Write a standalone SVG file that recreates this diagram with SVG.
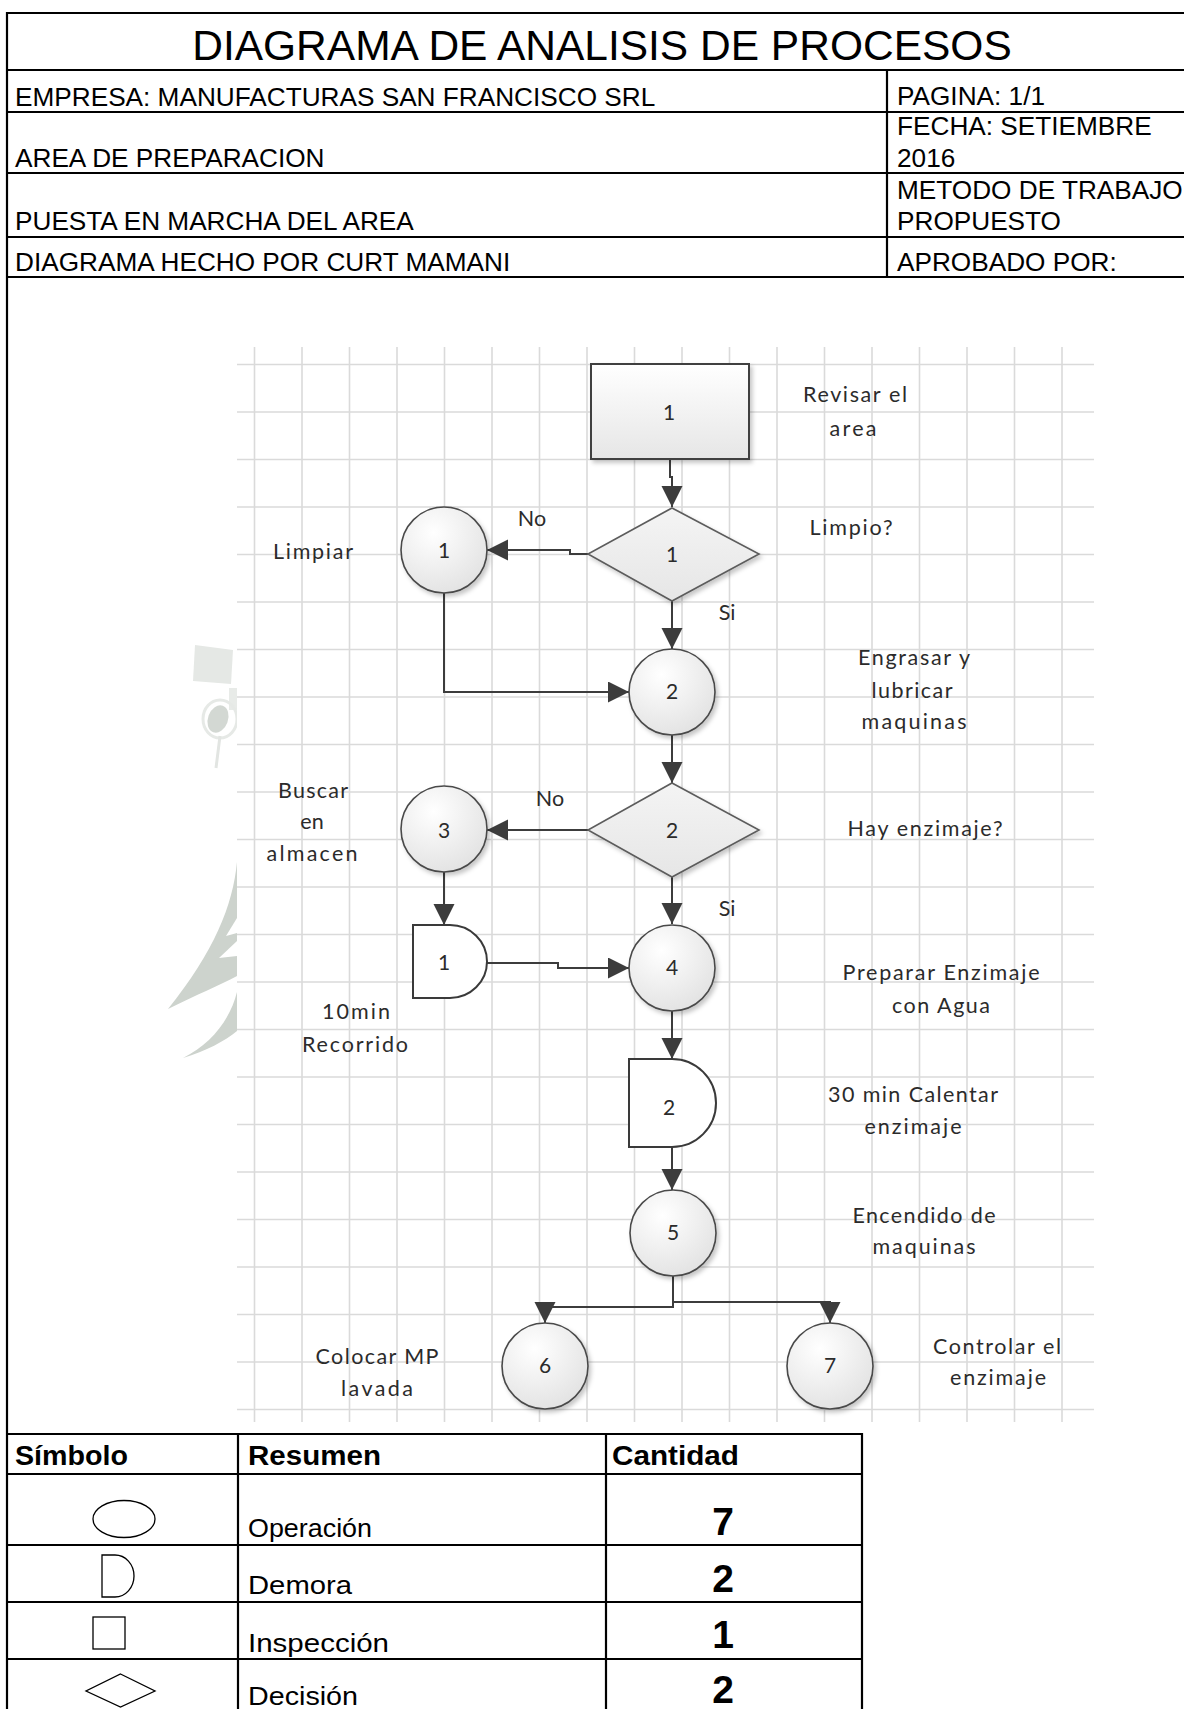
<svg xmlns="http://www.w3.org/2000/svg" width="1184" height="1709" viewBox="0 0 1184 1709">
  <style>
    .frame { stroke: #000; stroke-width: 2.2; fill: none; }
    .hdr { font-family: "Liberation Sans", Arial, sans-serif; font-size: 26.2px; fill: #000; }
    .title { font-family: "Liberation Sans", Arial, sans-serif; font-size: 42.5px; fill: #000; }
    .th { font-family: "Liberation Sans", Arial, sans-serif; font-size: 27px; font-weight: bold; fill: #000; }
    .td { font-family: "Liberation Sans", Arial, sans-serif; font-size: 25.5px; fill: #000; }
    .num { font-family: "Liberation Sans", Arial, sans-serif; font-size: 39px; font-weight: bold; fill: #000; text-anchor: middle; }
    .sym { stroke: #000; stroke-width: 1.3; fill: #fff; }
    .grid line { stroke: #dadada; stroke-width: 1.6; }
    .lbl { font-family: Lato, "Open Sans", sans-serif; font-size: 21.5px; fill: #2b2b2b; text-anchor: middle; }
    .nid { font-family: Lato, "Open Sans", sans-serif; font-size: 21px; fill: #2b2b2b; text-anchor: middle; }
    .op { fill: url(#opFill); stroke: #4a4a4a; stroke-width: 1.6; filter: url(#shadow); }
    .dec { fill: url(#decFill); stroke: #5c5c5c; stroke-width: 1.6; filter: url(#shadow); }
    .insp { fill: url(#inspFill); stroke: #404040; stroke-width: 2; filter: url(#shadow); }
    .delay { fill: #fff; stroke: #3a3a3a; stroke-width: 2; }
    .conn path { fill: none; stroke: #3c3c3c; stroke-width: 2; marker-end: url(#arrow); }
    .wm { fill: #cdd3cd; }
  </style>
  <defs>
    <radialGradient id="opFill" cx="0.38" cy="0.3" r="0.8">
      <stop offset="0" stop-color="#ffffff"/>
      <stop offset="1" stop-color="#e0e0e0"/>
    </radialGradient>
    <linearGradient id="decFill" x1="0" y1="0" x2="0" y2="1">
      <stop offset="0" stop-color="#f4f4f4"/>
      <stop offset="1" stop-color="#e6e6e6"/>
    </linearGradient>
    <linearGradient id="inspFill" x1="0" y1="0" x2="0" y2="1">
      <stop offset="0" stop-color="#ffffff"/>
      <stop offset="1" stop-color="#e6e6e6"/>
    </linearGradient>
    <filter id="shadow" x="-20%" y="-20%" width="150%" height="150%">
      <feDropShadow dx="2.5" dy="3" stdDeviation="2.2" flood-color="#000" flood-opacity="0.22"/>
    </filter>
    <marker id="arrow" markerUnits="userSpaceOnUse" markerWidth="22" markerHeight="22" refX="21" refY="10.5" orient="auto">
      <path d="M0,0 L21,10.5 L0,21 Z" fill="#3c3c3c"/>
    </marker>
  </defs>

  <rect width="1184" height="1709" fill="#fff"/>

  <!-- faded logo behind the chart, left margin -->
  <g id="logo">
    <polygon points="195,645 233,650 231,684 193,681" fill="#e5e8e5"/>
    <rect x="229" y="688" width="8" height="22" fill="#e8ebe8"/>
    <ellipse cx="220" cy="719" rx="17" ry="19" fill="none" stroke="#e6e9e6" stroke-width="3"/>
    <ellipse cx="218" cy="719" rx="10" ry="14" transform="rotate(20 218 719)" fill="#d3d8d3"/>
    <line x1="220" y1="736" x2="216" y2="768" stroke="#e2e5e2" stroke-width="3"/>
    <path class="wm" d="M237,862 C233,905 214,952 168,1009 C196,995 220,985 237,976 Z"/>
    <polygon points="237,918 237,933 226,936" fill="#fff"/>
    <polygon points="237,941 237,956 219,958" fill="#fff"/>
    <path class="wm" d="M237,992 C230,1020 211,1044 183,1058 C206,1051 225,1041 237,1031 Z"/>
  </g>

  <!-- squared paper behind the flow chart -->
  <g class="grid">
    <rect x="237" y="347" width="857" height="1075" fill="#fff"/>
    <line x1="254.5" y1="347" x2="254.5" y2="1422"/>
    <line x1="302" y1="347" x2="302" y2="1422"/>
    <line x1="349.5" y1="347" x2="349.5" y2="1422"/>
    <line x1="397" y1="347" x2="397" y2="1422"/>
    <line x1="444.5" y1="347" x2="444.5" y2="1422"/>
    <line x1="492" y1="347" x2="492" y2="1422"/>
    <line x1="539.5" y1="347" x2="539.5" y2="1422"/>
    <line x1="587" y1="347" x2="587" y2="1422"/>
    <line x1="634.5" y1="347" x2="634.5" y2="1422"/>
    <line x1="682" y1="347" x2="682" y2="1422"/>
    <line x1="729.5" y1="347" x2="729.5" y2="1422"/>
    <line x1="777" y1="347" x2="777" y2="1422"/>
    <line x1="824.5" y1="347" x2="824.5" y2="1422"/>
    <line x1="872" y1="347" x2="872" y2="1422"/>
    <line x1="919.5" y1="347" x2="919.5" y2="1422"/>
    <line x1="967" y1="347" x2="967" y2="1422"/>
    <line x1="1014.5" y1="347" x2="1014.5" y2="1422"/>
    <line x1="1062" y1="347" x2="1062" y2="1422"/>
    <line x1="237" y1="364.5" x2="1094" y2="364.5"/>
    <line x1="237" y1="412" x2="1094" y2="412"/>
    <line x1="237" y1="459.5" x2="1094" y2="459.5"/>
    <line x1="237" y1="507" x2="1094" y2="507"/>
    <line x1="237" y1="554.5" x2="1094" y2="554.5"/>
    <line x1="237" y1="602" x2="1094" y2="602"/>
    <line x1="237" y1="649.5" x2="1094" y2="649.5"/>
    <line x1="237" y1="697" x2="1094" y2="697"/>
    <line x1="237" y1="744.5" x2="1094" y2="744.5"/>
    <line x1="237" y1="792" x2="1094" y2="792"/>
    <line x1="237" y1="839.5" x2="1094" y2="839.5"/>
    <line x1="237" y1="887" x2="1094" y2="887"/>
    <line x1="237" y1="934.5" x2="1094" y2="934.5"/>
    <line x1="237" y1="982" x2="1094" y2="982"/>
    <line x1="237" y1="1029.5" x2="1094" y2="1029.5"/>
    <line x1="237" y1="1077" x2="1094" y2="1077"/>
    <line x1="237" y1="1124.5" x2="1094" y2="1124.5"/>
    <line x1="237" y1="1172" x2="1094" y2="1172"/>
    <line x1="237" y1="1219.5" x2="1094" y2="1219.5"/>
    <line x1="237" y1="1267" x2="1094" y2="1267"/>
    <line x1="237" y1="1314.5" x2="1094" y2="1314.5"/>
    <line x1="237" y1="1362" x2="1094" y2="1362"/>
    <line x1="237" y1="1409.5" x2="1094" y2="1409.5"/>
  </g>

  <!-- header block -->
  <g id="header">
    <path class="frame" d="M7,1709 V13 H1184 M7,70 H1184 M7,112 H1184 M7,173 H1184 M7,237 H1184 M7,277 H1184 M887,70 V277"/>
    <text class="title" x="602" y="60" text-anchor="middle">DIAGRAMA DE ANALISIS DE PROCESOS</text>
    <text class="hdr" x="15" y="106">EMPRESA: MANUFACTURAS SAN FRANCISCO SRL</text>
    <text class="hdr" x="15" y="167">AREA DE PREPARACION</text>
    <text class="hdr" x="15" y="230">PUESTA EN MARCHA DEL AREA</text>
    <text class="hdr" x="15" y="271">DIAGRAMA HECHO POR CURT MAMANI</text>
    <text class="hdr" x="897" y="105">PAGINA: 1/1</text>
    <text class="hdr" x="897" y="135">FECHA: SETIEMBRE</text>
    <text class="hdr" x="897" y="167">2016</text>
    <text class="hdr" x="897" y="199">METODO DE TRABAJO</text>
    <text class="hdr" x="897" y="230">PROPUESTO</text>
    <text class="hdr" x="897" y="271">APROBADO POR:</text>
  </g>

  <!-- connectors -->
  <g class="conn">
    <path d="M670,460 V477 H672 V507"/>
    <path d="M588,554 H570 V550 H487"/>
    <path d="M444,593 V692 H629"/>
    <path d="M672,601 V649"/>
    <path d="M672,735 V783"/>
    <path d="M588,830 H487"/>
    <path d="M444,872 V925"/>
    <path d="M487,963 H558 V968 H629"/>
    <path d="M672,877 V924"/>
    <path d="M672,1011 V1059"/>
    <path d="M672,1147 V1190"/>
    <path d="M673,1276 V1307 H545 V1323"/>
    <path d="M673,1302 H830 V1323"/>
  </g>

  <!-- flow chart nodes -->
  <g id="insp1">
    <rect class="insp" x="591" y="364" width="158" height="95"/>
    <text class="nid" x="669" y="420">1</text>
  </g>
  <g id="dec1">
    <polygon class="dec" points="672,508 759,554 672,601 588,554"/>
    <text class="nid" x="672" y="562">1</text>
  </g>
  <g id="op1">
    <circle class="op" cx="444" cy="550" r="43"/>
    <text class="nid" x="444" y="558">1</text>
  </g>
  <g id="op2">
    <circle class="op" cx="672" cy="692" r="43"/>
    <text class="nid" x="672" y="699">2</text>
  </g>
  <g id="dec2">
    <polygon class="dec" points="672,783 759,830 672,877 588,830"/>
    <text class="nid" x="672" y="838">2</text>
  </g>
  <g id="op3">
    <circle class="op" cx="444" cy="829" r="43"/>
    <text class="nid" x="444" y="838">3</text>
  </g>
  <g id="delay1">
    <path class="delay" d="M413,925 H450 A37,36.5 0 0 1 450,998 H413 Z"/>
    <text class="nid" x="444" y="970">1</text>
  </g>
  <g id="op4">
    <circle class="op" cx="672" cy="968" r="43"/>
    <text class="nid" x="672" y="975">4</text>
  </g>
  <g id="delay2">
    <path class="delay" d="M629,1059 H672 A44,44 0 0 1 672,1147 H629 Z"/>
    <text class="nid" x="669" y="1115">2</text>
  </g>
  <g id="op5">
    <circle class="op" cx="673" cy="1233" r="43"/>
    <text class="nid" x="673" y="1240">5</text>
  </g>
  <g id="op6">
    <circle class="op" cx="545" cy="1366" r="43"/>
    <text class="nid" x="545" y="1373">6</text>
  </g>
  <g id="op7">
    <circle class="op" cx="830" cy="1366" r="43"/>
    <text class="nid" x="830" y="1373">7</text>
  </g>

  <!-- step descriptions and branch labels -->
  <g id="labels">
    <text class="lbl" x="855" y="402" textLength="104" lengthAdjust="spacing">Revisar el</text>
    <text class="lbl" x="853" y="436" textLength="47" lengthAdjust="spacing">area</text>
    <text class="lbl" x="851" y="535" textLength="83" lengthAdjust="spacing">Limpio?</text>
    <text class="lbl" x="532" y="526">No</text>
    <text class="lbl" x="313" y="559" textLength="80" lengthAdjust="spacing">Limpiar</text>
    <text class="lbl" x="727" y="620">Si</text>
    <text class="lbl" x="914" y="665" textLength="112" lengthAdjust="spacing">Engrasar y</text>
    <text class="lbl" x="912" y="698" textLength="81" lengthAdjust="spacing">lubricar</text>
    <text class="lbl" x="914" y="729" textLength="105" lengthAdjust="spacing">maquinas</text>
    <text class="lbl" x="313" y="798" textLength="70" lengthAdjust="spacing">Buscar</text>
    <text class="lbl" x="312" y="829">en</text>
    <text class="lbl" x="312" y="861" textLength="91" lengthAdjust="spacing">almacen</text>
    <text class="lbl" x="550" y="806">No</text>
    <text class="lbl" x="925" y="836" textLength="155" lengthAdjust="spacing">Hay enzimaje?</text>
    <text class="lbl" x="727" y="916">Si</text>
    <text class="lbl" x="941" y="980" textLength="197" lengthAdjust="spacing">Preparar Enzimaje</text>
    <text class="lbl" x="941" y="1013" textLength="98" lengthAdjust="spacing">con Agua</text>
    <text class="lbl" x="356" y="1019" textLength="68" lengthAdjust="spacing">10min</text>
    <text class="lbl" x="355" y="1052" textLength="106" lengthAdjust="spacing">Recorrido</text>
    <text class="lbl" x="913" y="1102" textLength="170" lengthAdjust="spacing">30 min Calentar</text>
    <text class="lbl" x="913" y="1134" textLength="97" lengthAdjust="spacing">enzimaje</text>
    <text class="lbl" x="924" y="1223" textLength="143" lengthAdjust="spacing">Encendido de</text>
    <text class="lbl" x="924" y="1254" textLength="103" lengthAdjust="spacing">maquinas</text>
    <text class="lbl" x="377" y="1364" textLength="123" lengthAdjust="spacing">Colocar MP</text>
    <text class="lbl" x="377" y="1396" textLength="72" lengthAdjust="spacing">lavada</text>
    <text class="lbl" x="997" y="1354" textLength="128" lengthAdjust="spacing">Controlar el</text>
    <text class="lbl" x="998" y="1385" textLength="96" lengthAdjust="spacing">enzimaje</text>
  </g>

  <!-- summary table -->
  <g id="summary">
    <path class="frame" d="M7,1434 H862 V1709 M7,1474 H862 M7,1545 H862 M7,1602 H862 M7,1659 H862 M238,1434 V1709 M606,1434 V1709"/>
    <text class="th" x="15" y="1465" textLength="113" lengthAdjust="spacingAndGlyphs">Símbolo</text>
    <text class="th" x="248" y="1465" textLength="133" lengthAdjust="spacingAndGlyphs">Resumen</text>
    <text class="th" x="612" y="1465" textLength="127" lengthAdjust="spacingAndGlyphs">Cantidad</text>

    <ellipse class="sym" cx="124" cy="1519" rx="31" ry="18.5"/>
    <path class="sym" d="M102,1555 H115 A19,21 0 0 1 115,1597 H102 Z"/>
    <rect class="sym" x="93" y="1617" width="32" height="32"/>
    <polygon class="sym" points="120.5,1674 155,1691 120.5,1707 86,1691"/>

    <text class="td" x="248" y="1537" textLength="124" lengthAdjust="spacingAndGlyphs">Operación</text>
    <text class="td" x="248" y="1594" textLength="104" lengthAdjust="spacingAndGlyphs">Demora</text>
    <text class="td" x="248" y="1652" textLength="141" lengthAdjust="spacingAndGlyphs">Inspección</text>
    <text class="td" x="248" y="1705" textLength="110" lengthAdjust="spacingAndGlyphs">Decisión</text>

    <text class="num" x="723" y="1535">7</text>
    <text class="num" x="723" y="1592">2</text>
    <text class="num" x="723" y="1648">1</text>
    <text class="num" x="723" y="1703">2</text>
  </g>
</svg>
